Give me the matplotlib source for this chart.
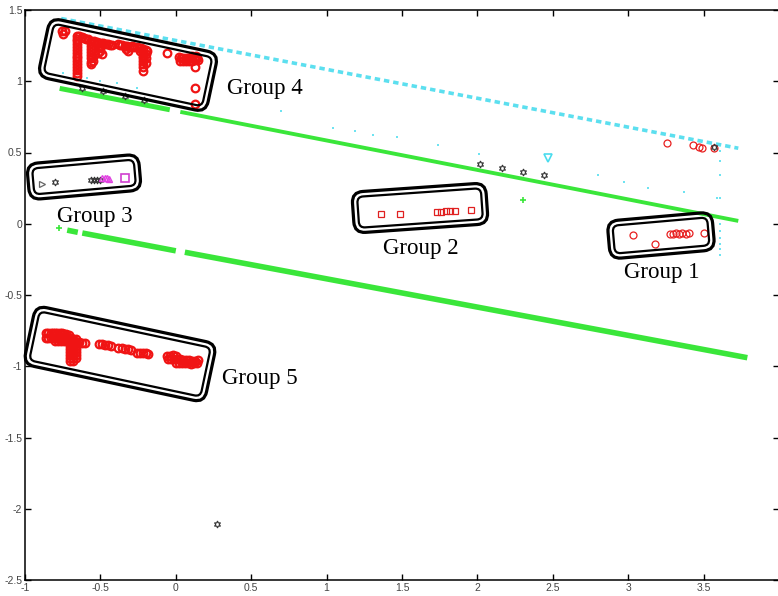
import matplotlib.pyplot as plt
import matplotlib.patches as mp
import matplotlib.transforms as mt

# faixas verdes e ciano (trechos: x inicial, x final, y inicial, y final)
verde_sup_x0 = [-0.77, 0.03]
verde_sup_x1 = [-0.04, 3.73]
verde_sup_y0 = [0.95, 0.785]
verde_sup_y1 = [0.80, 0.02]

verde_inf_x0 = [-0.72, -0.62, 0.06]
verde_inf_x1 = [-0.65, 0.00, 3.79]
verde_inf_y0 = [-0.045, -0.065, -0.20]
verde_inf_y1 = [-0.06, -0.19, -0.94]
verde_pts_x = [-0.775, 2.30]
verde_pts_y = [-0.03, 0.17]

ciano_x = [-0.76, 3.73]
ciano_y = [1.44, 0.53]
ciano_pts_x = [-0.75, -0.59, -0.50, -0.39, -0.26, 0.70, 1.04, 1.19, 1.31, 1.47, 1.74, 2.01,
               2.80, 2.97, 3.13, 3.37, 3.59,
               3.61, 3.61, 3.61, 3.61, 3.61, 3.61, 3.61, 3.61, 3.61, 3.61]
ciano_pts_y = [1.06, 1.02, 1.00, 0.99, 0.95, 0.79, 0.67, 0.65, 0.62, 0.61, 0.55, 0.49,
               0.34, 0.29, 0.25, 0.22, 0.18,
               0.51, 0.44, 0.34, 0.18, 0.00, -0.05, -0.10, -0.14, -0.18, -0.22]
ciano_tri_x = [2.47]
ciano_tri_y = [0.46]

# circulos vermelhos - grupo 4
g4_x = [-0.755, -0.735, -0.745,
        -0.655, -0.655, -0.655, -0.655, -0.655, -0.655, -0.655, -0.655, -0.655, -0.655, -0.655, -0.655, -0.655, -0.655, -0.655,
        -0.64, -0.625, -0.61, -0.595, -0.58,
        -0.56, -0.56, -0.56, -0.56, -0.56, -0.56, -0.56, -0.56, -0.56, -0.55, -0.55,
        -0.54, -0.525, -0.51, -0.495, -0.48, -0.465, -0.45, -0.435, -0.42, -0.50, -0.50, -0.50, -0.49, -0.515,
        -0.385, -0.37, -0.355, -0.34, -0.325, -0.31, -0.33, -0.315,
        -0.29, -0.275, -0.26, -0.245, -0.23, -0.215, -0.20, -0.19, -0.235, -0.22, -0.20,
        -0.215, -0.215, -0.215, -0.215, -0.215, -0.215, -0.195, -0.20,
        -0.06,
        0.02, 0.035, 0.05, 0.065, 0.08, 0.095, 0.11, 0.125, 0.14, 0.03, 0.05, 0.07, 0.09, 0.11, 0.13, 0.145, 0.11, 0.135,
        0.13, 0.13, 0.13]
g4_y = [1.355, 1.35, 1.335,
        1.32, 1.30, 1.28, 1.26, 1.24, 1.22, 1.20, 1.18, 1.16, 1.14, 1.12, 1.10, 1.08, 1.06, 1.04,
        1.315, 1.31, 1.305, 1.30, 1.30,
        1.285, 1.265, 1.245, 1.225, 1.205, 1.185, 1.16, 1.135, 1.12, 1.17, 1.14,
        1.28, 1.275, 1.27, 1.27, 1.265, 1.26, 1.26, 1.255, 1.255, 1.25, 1.23, 1.21, 1.19, 1.20,
        1.26, 1.255, 1.255, 1.25, 1.245, 1.24, 1.225, 1.215,
        1.245, 1.24, 1.24, 1.235, 1.23, 1.225, 1.22, 1.21, 1.215, 1.20, 1.19,
        1.18, 1.16, 1.14, 1.12, 1.10, 1.075, 1.16, 1.13,
        1.20,
        1.17, 1.165, 1.16, 1.16, 1.16, 1.165, 1.165, 1.16, 1.16, 1.145, 1.14, 1.14, 1.145, 1.145, 1.15, 1.15, 1.18, 1.18,
        1.10, 0.95, 0.84]

# circulos vermelhos - grupo 5
g5_x = [-0.86, -0.845, -0.83, -0.815, -0.80, -0.785, -0.77, -0.755, -0.74, -0.725, -0.71,
        -0.86, -0.845, -0.83, -0.815, -0.80, -0.785, -0.77, -0.755, -0.74, -0.725, -0.71, -0.695, -0.68, -0.665,
        -0.80, -0.78, -0.76, -0.74, -0.72, -0.70, -0.68, -0.66, -0.64,
        -0.70, -0.70, -0.70, -0.70, -0.70, -0.70, -0.70, -0.68, -0.68, -0.68, -0.68, -0.68, -0.68, -0.68,
        -0.66, -0.66, -0.66, -0.66, -0.66, -0.66,
        -0.62, -0.60,
        -0.51, -0.49, -0.47, -0.45, -0.43,
        -0.38, -0.36, -0.34, -0.32, -0.30,
        -0.26, -0.24, -0.22, -0.20, -0.185,
        -0.06, -0.04, -0.02, 0.0,
        -0.05, -0.03, -0.01, 0.01, 0.03, 0.05, 0.07, 0.09, 0.11, 0.13, 0.15,
        0.0, 0.02, 0.04, 0.06, 0.08, 0.10, 0.12, 0.14]
g5_y = [-0.77, -0.765, -0.77, -0.765, -0.77, -0.765, -0.77, -0.77, -0.775, -0.775, -0.78,
        -0.80, -0.80, -0.80, -0.80, -0.80, -0.80, -0.80, -0.80, -0.80, -0.80, -0.80, -0.805, -0.81, -0.81,
        -0.82, -0.82, -0.82, -0.82, -0.82, -0.825, -0.825, -0.83, -0.83,
        -0.84, -0.86, -0.88, -0.90, -0.92, -0.94, -0.96, -0.84, -0.86, -0.88, -0.90, -0.92, -0.94, -0.96,
        -0.84, -0.86, -0.88, -0.90, -0.92, -0.94,
        -0.835, -0.84,
        -0.845, -0.845, -0.85, -0.85, -0.855,
        -0.875, -0.875, -0.88, -0.88, -0.885,
        -0.905, -0.905, -0.91, -0.91, -0.915,
        -0.925, -0.925, -0.92, -0.925,
        -0.95, -0.95, -0.95, -0.95, -0.95, -0.955, -0.955, -0.955, -0.96, -0.96, -0.955,
        -0.975, -0.975, -0.98, -0.98, -0.98, -0.985, -0.98, -0.975]

# circulos vermelhos - grupo 1 e perto da faixa ciano
g1_x = [3.03, 3.18, 3.28, 3.30, 3.32, 3.34, 3.36, 3.38, 3.40, 3.50,
        3.26, 3.43, 3.47, 3.49, 3.57]
g1_y = [-0.08, -0.14, -0.07, -0.07, -0.065, -0.07, -0.065, -0.07, -0.065, -0.065,
        0.57, 0.55, 0.54, 0.53, 0.53]

# quadrados vermelhos - grupo 2
g2_x = [1.36, 1.49, 1.73, 1.76, 1.79, 1.82, 1.85, 1.96]
g2_y = [0.07, 0.07, 0.085, 0.085, 0.09, 0.09, 0.09, 0.10]

# hexagramas pretos
hex_x = [2.02, 2.16, 2.30, 2.44, 3.57, -0.62, -0.48, -0.34, -0.21,
         -0.80, -0.56, -0.54, -0.52, -0.50, 0.27]
hex_y = [0.42, 0.39, 0.36, 0.34, 0.54, 0.95, 0.93, 0.90, 0.87,
         0.29, 0.31, 0.31, 0.31, 0.31, -2.11]

# grupo 3: triangulo cinza, triangulos e quadrado magenta
tri_cinza_x = [-0.89]
tri_cinza_y = [0.28]
mag_tri_x = [-0.49, -0.47, -0.455, -0.44]
mag_tri_y = [0.32, 0.32, 0.32, 0.315]
mag_sq_x = [-0.34]
mag_sq_y = [0.32]

# rotulos dos grupos (x, y da linha de base)
rot_txt = ['Group 1', 'Group 2', 'Group 3', 'Group 4', 'Group 5']
rot_x = [3.224, 1.626, -0.535, 0.34, 0.306]
rot_y = [-0.379, -0.21, 0.014, 0.912, -1.123]
rot_ha = ['center', 'center', 'center', 'left', 'left']

# caixas: centro (px da imagem), largura, altura, angulo
cx_px = [661, 420, 84, 128, 120]
cy_px = [235.5, 208, 177, 65, 354]
cw_px = [105, 134, 112, 172, 185]
ch_px = [38, 41, 36, 60, 60]
cang = [5, 4, 5, -12, -12]

fig = plt.figure(figsize=(7.78, 5.96), dpi=100)
ax = fig.add_axes([25/778, 16/596, 754/778, 570/596])

VERDE = '#3ae63a'
CIANO = '#4adcee'
VERM = '#f01414'

ax.plot([verde_sup_x0[0], verde_sup_x1[0]], [verde_sup_y0[0], verde_sup_y1[0]], color=VERDE, lw=3.6,
        solid_capstyle='butt')
ax.plot([verde_sup_x0[1], verde_sup_x1[1]], [verde_sup_y0[1], verde_sup_y1[1]], color=VERDE, lw=2.8,
        solid_capstyle='butt')
for i in range(len(verde_inf_x0)):
    ax.plot([verde_inf_x0[i], verde_inf_x1[i]], [verde_inf_y0[i], verde_inf_y1[i]], color=VERDE, lw=4,
            solid_capstyle='butt')
ax.plot(verde_pts_x, verde_pts_y, '+', color=VERDE, ms=5, mew=1.2)

ax.plot(ciano_x, ciano_y, color=CIANO, lw=2.6, dashes=(1.5, 1.1), alpha=0.9)
ax.plot(ciano_pts_x, ciano_pts_y, 's', color=CIANO, ms=2, mew=0, alpha=0.8)
ax.plot(ciano_tri_x, ciano_tri_y, 'v', mfc='none', mec=CIANO, ms=6, mew=1.2)

ax.plot(g4_x, g4_y, 'o', mfc='none', mec=VERM, ms=5.5, mew=1.6)
ax.plot(g5_x, g5_y, 'o', mfc='none', mec=VERM, ms=5.5, mew=1.6)
ax.plot(g1_x, g1_y, 'o', mfc='none', mec='#e82020', ms=5, mew=0.9)
ax.plot(g2_x, g2_y, 's', mfc='none', mec='#e02020', ms=5, mew=0.9)

ax.plot(hex_x, hex_y, marker=(6, 1, 0), ls='none', mfc='none', mec='#333333', ms=5, mew=0.8)
ax.plot(tri_cinza_x, tri_cinza_y, '>', mfc='none', mec='#666666', ms=5, mew=0.9)
ax.plot(mag_tri_x, mag_tri_y, '^', mfc='none', mec='#e040e0', ms=5, mew=1.0)
ax.plot(mag_sq_x, mag_sq_y, 's', mfc='none', mec='#d040d0', ms=6, mew=1.2)

ax.set_xlim(-1, 4)
ax.set_ylim(-2.5, 1.5)
ax.set_xticks([-1, -0.5, 0, 0.5, 1, 1.5, 2, 2.5, 3, 3.5, 4])
ax.set_yticks([-2.5, -2, -1.5, -1, -0.5, 0, 0.5, 1, 1.5])
ax.set_xticklabels(['-1', '-0.5', '0', '0.5', '1', '1.5', '2', '2.5', '3', '3.5', ''])
ax.set_yticklabels(['-2.5', '-2', '-1.5', '-1', '-0.5', '0', '0.5', '1', '1.5'])
ax.tick_params(direction='in', length=4.5, width=1, top=True, right=True, labelsize=7.5,
               labelcolor='#444444', pad=2)
for lab in ax.get_xticklabels() + ax.get_yticklabels():
    lab.set_family(['Liberation Sans', 'DejaVu Sans'])
for s in ax.spines.values():
    s.set_linewidth(1.1)

for i in range(len(rot_txt)):
    ax.text(rot_x[i], rot_y[i], rot_txt[i], ha=rot_ha[i], va='baseline', fontsize=16.5,
            family=['Liberation Serif', 'DejaVu Serif'])

# caixas duplas arredondadas (em pixels)
H = 596
for i in range(len(cx_px)):
    cx, cy = cx_px[i], H - cy_px[i]
    tr = mt.Affine2D().rotate_deg_around(cx, cy, cang[i])
    for d, lw in [(0, 2.3), (5, 1.6)]:
        w, h = cw_px[i] - 2*d, ch_px[i] - 2*d
        p = mp.FancyBboxPatch((cx - w/2, cy - h/2), w, h, boxstyle='round,pad=0,rounding_size=%d' % (11 - d),
                              fill=False, ec='k', lw=lw, transform=tr)
        fig.add_artist(p)

fig.savefig('out.png', dpi=100)
